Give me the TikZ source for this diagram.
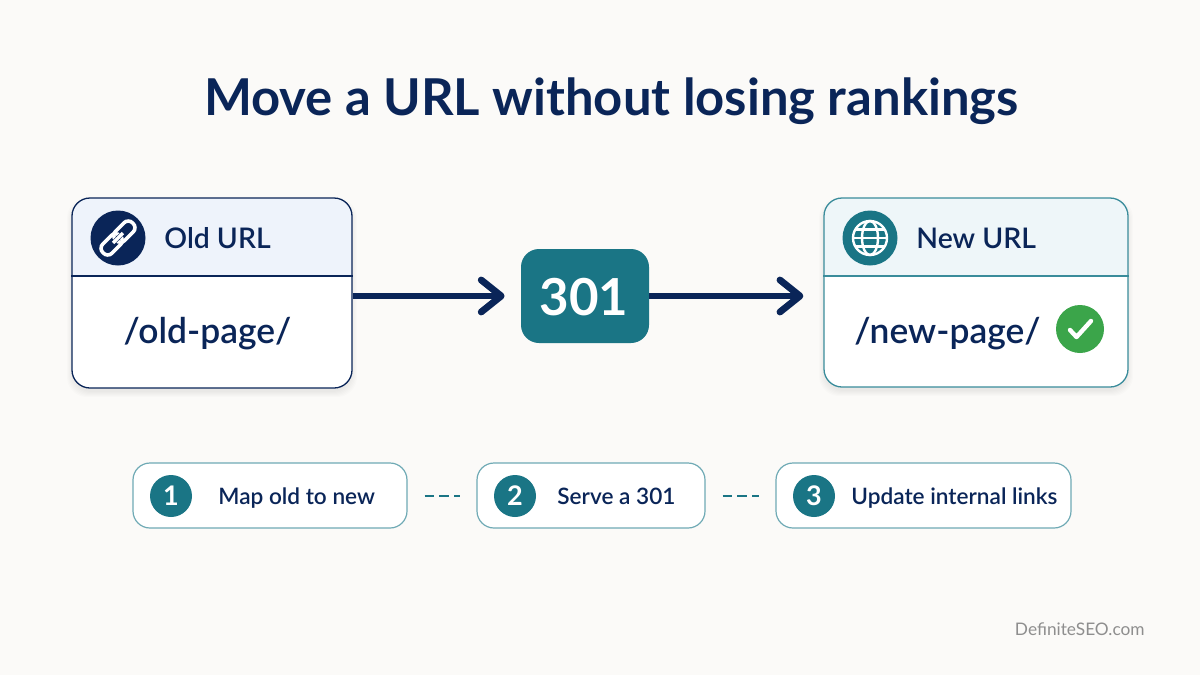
\documentclass[tikz,border=0pt]{standalone}
\usepackage{fontspec}
\setmainfont{Lato}
\IfFontExistsTF{Lato Semibold}{\newfontfamily\medfont{Lato Semibold}}{\newfontfamily\medfont{Lato}[FakeBold=0.6]}
\newfontfamily\titlefont{Lato}[FakeBold=0.8,BoldFont={Lato Bold}]
\usetikzlibrary{arrows.meta,calc}
\definecolor{bgc}{HTML}{FBFAF8}
\definecolor{navy}{HTML}{0A2558}
\definecolor{teal}{HTML}{1A7585}
\definecolor{tealline}{HTML}{3A8C9B}
\definecolor{stepline}{HTML}{6FAAB5}
\definecolor{okgreen}{HTML}{3BA54A}
\definecolor{hdold}{HTML}{EEF3FB}
\definecolor{hdnew}{HTML}{EEF6F9}
\definecolor{markgrey}{HTML}{8E8E8E}
\tikzset{
  cardbox/.style={rectangle,rounded corners=9pt,inner sep=0pt,line width=.65pt},
  gatebox/.style={rectangle,rounded corners=9pt,inner sep=0pt,fill=teal},
  gatetext/.style={text=white,inner sep=0pt,font=\fontsize{25.5}{25.5}\selectfont\bfseries},
  stepbox/.style={rectangle,rounded corners=8.5pt,inner sep=0pt,draw=stepline,line width=.6pt,fill=white,minimum height=32.5pt},
  badge/.style={circle,inner sep=0pt,minimum size=21pt,fill=teal},
  badgetext/.style={text=white,inner sep=0pt,font=\fontsize{13.5}{13.5}\selectfont\bfseries},
  iconc/.style={circle,inner sep=0pt,minimum size=27.5pt},
  hdtext/.style={text=navy,inner sep=0pt,anchor=base west,font=\fontsize{14.2}{14.2}\selectfont\medfont},
  pathtext/.style={text=navy,inner sep=0pt,anchor=base,font=\fontsize{17.7}{17.7}\selectfont\medfont},
  steptext/.style={text=navy,inner sep=0pt,anchor=base west,font=\fontsize{11.3}{11.3}\selectfont\medfont},
  flow/.style={draw=navy,line width=3pt,-{Straight Barb[length=10pt,width=16pt,line width=3.4pt,round]}},
  linkdash/.style={draw=teal,line width=1pt,dash pattern=on 4.6pt off 2.8pt}
}
\begin{document}
\begin{tikzpicture}[x=.5pt,y=-.5pt]
\useasboundingbox (0,0) rectangle (1200,675);
\fill[bgc] (0,0) rectangle (1200,675);
\node[text=navy,inner sep=0pt,anchor=base,font=\fontsize{25.4}{25.4}\selectfont\bfseries] (title) at (611.5,115) {Move a URL without losing rankings};
% shadows
\foreach \g in {0,2,4,6,8,10}{
  \fill[black,opacity=.010,rounded corners=10pt] (72-\g/2,203-\g/2) rectangle (352+\g/2,392+\g/2);
  \fill[black,opacity=.010,rounded corners=10pt] (824-\g/2,203-\g/2) rectangle (1128+\g/2,391+\g/2);
}
% old card
\node[cardbox,fill=white,minimum width=140pt,minimum height=95pt] (old) at (212,293) {};
\begin{scope}
  \clip[rounded corners=9pt] (72,198) rectangle (352,388);
  \fill[hdold] (72,198) rectangle (352,276);
\end{scope}
\draw[navy,line width=.6pt] (old.west |- 0,276) coordinate (oldl) -- (old.east |- 0,276) coordinate (oldr);
\node[cardbox,draw=navy,minimum width=140pt,minimum height=95pt] (oldframe) at (212,293) {};
\node[iconc,fill=navy] (oldicon) at (118,238) {};
\begin{scope}[shift={(118,238)},rotate=45,white,line width=1.8pt]
  \draw[rounded corners=3pt] (-21,-6.5) rectangle (3,6.5);
  \draw[rounded corners=3pt] (-3,-6.5) rectangle (21,6.5);
  \fill[navy] (-4.5,-2.2) rectangle (4.5,2.2);
  \draw[line width=1.6pt] (-7,0) -- (7,0);
\end{scope}
\node[hdtext] (oldlabel) at (164,248) {Old URL};
\node[pathtext] (oldpath) at (207.5,343) {/old-page/};
% new card
\node[cardbox,fill=white,minimum width=152pt,minimum height=94.5pt] (new) at (976,292.5) {};
\begin{scope}
  \clip[rounded corners=9pt] (824,198) rectangle (1128,387);
  \fill[hdnew] (824,198) rectangle (1128,276);
\end{scope}
\draw[tealline,line width=.6pt] (new.west |- 0,276) coordinate (newl) -- (new.east |- 0,276) coordinate (newr);
\node[cardbox,draw=tealline,minimum width=152pt,minimum height=94.5pt] (newframe) at (976,292.5) {};
\node[iconc,fill=teal] (newicon) at (870,238) {};
\begin{scope}[shift={(870,238)},white,line width=1.2pt]
  \draw (0,0) circle[radius=17];
  \draw (0,0) ellipse[x radius=8,y radius=17];
  \draw (-17,0) -- (17,0);
  \draw (-14.5,-8.5) -- (14.5,-8.5);
  \draw (-14.5,8.5) -- (14.5,8.5);
\end{scope}
\node[hdtext] (newlabel) at (916,248) {New URL};
\node[pathtext] (newpath) at (947.5,343) {/new-page/};
\node[circle,inner sep=0pt,minimum size=24pt,fill=okgreen] (okmark) at (1080,329) {};
\draw[white,line width=2.2pt,line cap=round,line join=round] ($(okmark)+(-10,1)$) -- ($(okmark)+(-3.5,8)$) -- ($(okmark)+(11,-8)$);
% gate
\node[gatebox,minimum width=64pt,minimum height=47pt] (gate) at (585,296) {};
\node[gatetext,anchor=base] (gatelabel) at (584,315.5) {301};
\draw[flow,shorten >=8pt] (old.east |- gate.west) -- (gate.west);
\draw[flow,shorten >=10pt] (gate.east) -- (new.west |- gate.east);
% steps
\node[stepbox,minimum width=137pt] (s1) at (270,495.5) {};
\node[stepbox,minimum width=114pt] (s2) at (591,495.5) {};
\node[stepbox,minimum width=147.5pt] (s3) at (923.5,495.5) {};
\node[badge] (b1) at (171,496) {};
\node[badge] (b2) at (515,496) {};
\node[badge] (b3) at (814,496) {};
\node[badgetext,anchor=base] (n1) at (171,505) {1};
\node[badgetext,anchor=base] (n2) at (515,505) {2};
\node[badgetext,anchor=base] (n3) at (814,505) {3};
\node[steptext] (t1) at (218,504) {Map old to new};
\node[steptext] (t2) at (557,504) {Serve a 301};
\node[steptext] (t3) at (851,504) {Update internal links};
\draw[linkdash,shorten <=8.5pt,shorten >=8pt] (s1.east) -- (s2.west);
\draw[linkdash,shorten <=8.5pt,shorten >=8pt] (s2.east) -- (s3.west);
\node[text=markgrey,inner sep=0pt,anchor=base east,font=\fontsize{8.65}{8.65}\selectfont] (mark) at (1145,635) {DefiniteSEO.com};
\end{tikzpicture}
\end{document}
